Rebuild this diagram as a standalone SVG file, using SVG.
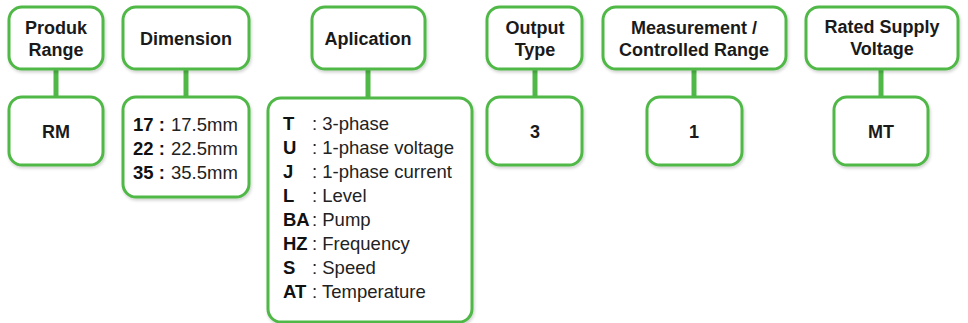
<svg xmlns="http://www.w3.org/2000/svg" width="968" height="323" viewBox="0 0 968 323">
<defs>
<filter id="sh" x="-10%" y="-10%" width="120%" height="130%">
<feDropShadow dx="1" dy="2" stdDeviation="1.5" flood-color="#000" flood-opacity="0.18"/>
</filter>
<style>
.box{fill:#fff;stroke:#4fb847;stroke-width:3;filter:url(#sh)}
.con{stroke:#4fb847;stroke-width:5;fill:none}
.h{font-family:"Liberation Sans",Arial,sans-serif;font-weight:bold;font-size:18px;fill:#1a1a1a;text-anchor:middle}
.v{font-family:"Liberation Sans",Arial,sans-serif;font-weight:bold;font-size:18px;fill:#1a1a1a;text-anchor:middle}
.t{font-family:"Liberation Sans",Arial,sans-serif;font-size:18.5px;fill:#222}
.b{font-weight:bold;fill:#111}
</style>
</defs>
<rect width="968" height="323" fill="#fff"/>
<g id="connectors">
<line class="con" x1="56" y1="69" x2="56" y2="97"/>
<line class="con" x1="186" y1="69" x2="186" y2="97"/>
<line class="con" x1="368" y1="69" x2="368" y2="98"/>
<line class="con" x1="535" y1="69" x2="535" y2="97"/>
<line class="con" x1="694" y1="69" x2="694" y2="97"/>
<line class="con" x1="881" y1="69" x2="881" y2="97"/>
</g>
<g id="produk-range">
<rect class="box" x="9" y="7" width="94" height="62" rx="13"/>
<text class="h" x="56" y="34">Produk</text>
<text class="h" x="56" y="56">Range</text>
</g>
<g id="rm">
<rect class="box" x="9" y="97" width="94" height="68" rx="13"/>
<text class="v" x="56" y="138">RM</text>
</g>
<g id="dimension">
<rect class="box" x="123" y="7" width="126" height="62" rx="13"/>
<text class="h" x="186" y="45">Dimension</text>
</g>
<g id="dimension-values">
<rect class="box" x="123" y="97" width="126" height="100" rx="13"/>
<text class="t" x="133" y="131"><tspan class="b">17 :</tspan><tspan x="171">17.5mm</tspan></text>
<text class="t" x="133" y="155"><tspan class="b">22 :</tspan><tspan x="171">22.5mm</tspan></text>
<text class="t" x="133" y="179"><tspan class="b">35 :</tspan><tspan x="171">35.5mm</tspan></text>
</g>
<g id="aplication">
<rect class="box" x="312" y="7" width="113" height="62" rx="13"/>
<text class="h" x="368" y="45">Aplication</text>
</g>
<g id="aplication-values">
<rect class="box" x="268" y="98" width="204" height="224" rx="13"/>
<text class="t" y="130"><tspan class="b" x="283">T</tspan><tspan x="312">: 3-phase</tspan></text>
<text class="t" y="154"><tspan class="b" x="283">U</tspan><tspan x="312">: 1-phase voltage</tspan></text>
<text class="t" y="178"><tspan class="b" x="283">J</tspan><tspan x="312">: 1-phase current</tspan></text>
<text class="t" y="202"><tspan class="b" x="283">L</tspan><tspan x="312">: Level</tspan></text>
<text class="t" y="226"><tspan class="b" x="283">BA</tspan><tspan x="312">: Pump</tspan></text>
<text class="t" y="250"><tspan class="b" x="283">HZ</tspan><tspan x="312">: Frequency</tspan></text>
<text class="t" y="274"><tspan class="b" x="283">S</tspan><tspan x="312">: Speed</tspan></text>
<text class="t" y="298"><tspan class="b" x="283">AT</tspan><tspan x="312">: Temperature</tspan></text>
</g>
<g id="output-type">
<rect class="box" x="487" y="7" width="95" height="62" rx="13"/>
<text class="h" x="535" y="34">Output</text>
<text class="h" x="535" y="56">Type</text>
</g>
<g id="output-value">
<rect class="box" x="487" y="97" width="95" height="68" rx="13"/>
<text class="v" x="535" y="138">3</text>
</g>
<g id="measurement">
<rect class="box" x="603" y="7" width="183" height="62" rx="13"/>
<text class="h" x="694" y="34">Measurement /</text>
<text class="h" x="694" y="56">Controlled Range</text>
</g>
<g id="measurement-value">
<rect class="box" x="647" y="97" width="95" height="68" rx="13"/>
<text class="v" x="694" y="138">1</text>
</g>
<g id="rated-supply">
<rect class="box" x="806" y="7" width="152" height="62" rx="13"/>
<text class="h" x="882" y="33">Rated Supply</text>
<text class="h" x="882" y="55">Voltage</text>
</g>
<g id="rated-value">
<rect class="box" x="834" y="97" width="94" height="68" rx="13"/>
<text class="v" x="881" y="138">MT</text>
</g>
</svg>
